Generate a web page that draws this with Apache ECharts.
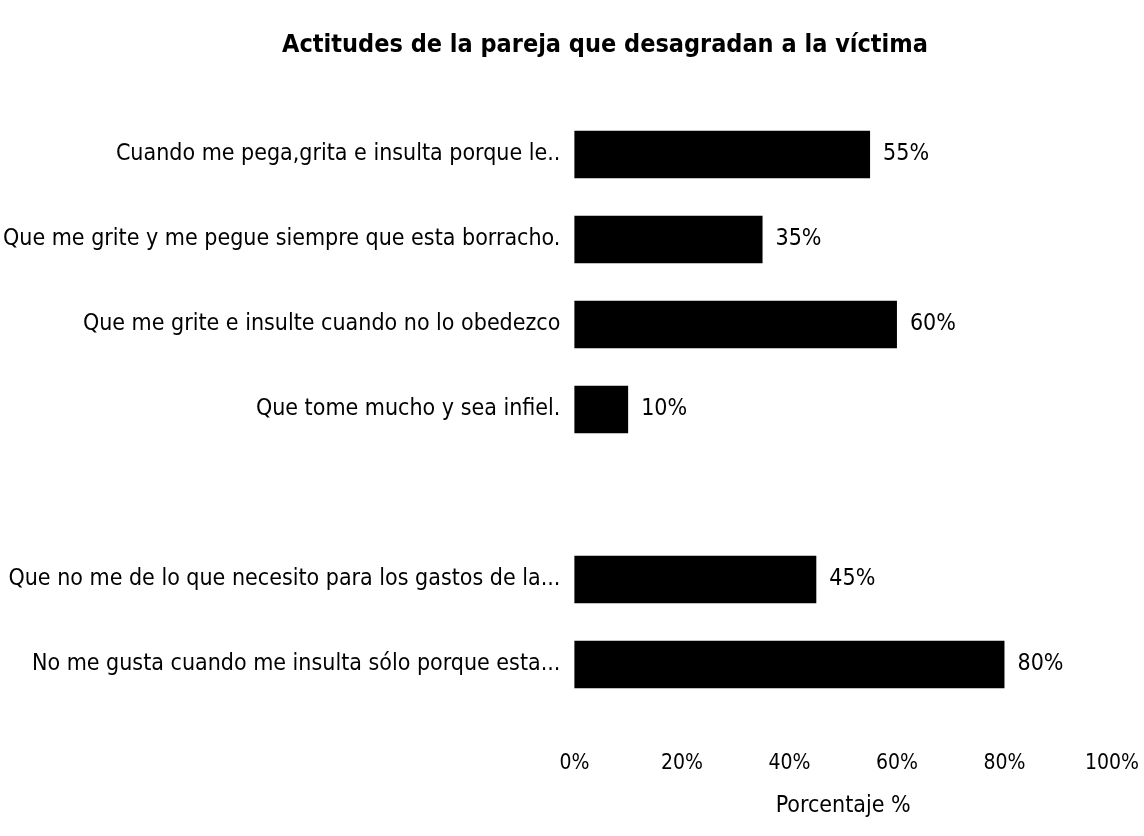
<!DOCTYPE html>
<html>
<head>
<meta charset="utf-8">
<script src="https://cdn.jsdelivr.net/npm/echarts@6/dist/echarts.min.js"></script>
<style>
html,body{margin:0;padding:0;background:#fff;}
#chart{width:1144px;height:836px;}
</style>
</head>
<body>
<div id="chart"></div>
<script>
const categories = [
  'Cuando me pega,grita e insulta porque le..',
  'Que me grite y me pegue siempre que esta borracho.',
  'Que me grite e insulte cuando no lo obedezco',
  'Que tome mucho y sea infiel.',
  '',
  'Que no me de lo que necesito para los gastos de la...',
  'No me gusta cuando me insulta sólo porque esta...'
];
const values = [55, 35, 60, 10, null, 45, 80];
const xTicks = [0, 20, 40, 60, 80, 100];

const FONT = "'Liberation Sans Narrow', 'DejaVu Sans Condensed', 'Noto Sans', sans-serif";

const chart = echarts.init(document.getElementById('chart'), null, {renderer: 'canvas'});
chart.setOption({
  animation: false,
  backgroundColor: '#fff',
  title: {
    text: 'Actitudes de la pareja que desagradan a la víctima',
    left: 600, top: 28, textAlign: 'center',
    textStyle: {fontFamily: FONT, fontSize: 25, fontWeight: 'bold', color: '#000'}
  },
  grid: {left: 570, right: 32, top: 112, bottom: 129, containLabel: false},
  xAxis: {
    type: 'value', min: xTicks[0], max: xTicks[xTicks.length - 1], interval: 20,
    name: 'Porcentaje %', nameLocation: 'middle', nameGap: 88,
    nameTextStyle: {fontFamily: FONT, fontSize: 23, color: '#000'},
    axisLine: {show: false}, axisTick: {show: false}, splitLine: {show: false},
    axisLabel: {formatter: v => v + '%', margin: 46, fontFamily: FONT, fontSize: 21, color: '#000'}
  },
  yAxis: {
    type: 'category', data: categories, inverse: true,
    axisLine: {show: false}, axisTick: {show: false}, splitLine: {show: false},
    axisLabel: {margin: 14, fontFamily: FONT, fontSize: 23, color: '#000'}
  },
  series: [{
    type: 'bar', data: values, barWidth: '56%',
    itemStyle: {color: '#000'},
    label: {show: true, position: 'right', distance: 13, formatter: p => p.value + '%',
      fontFamily: FONT, fontSize: 23, color: '#000'}
  }]
});
</script>
</body>
</html>
